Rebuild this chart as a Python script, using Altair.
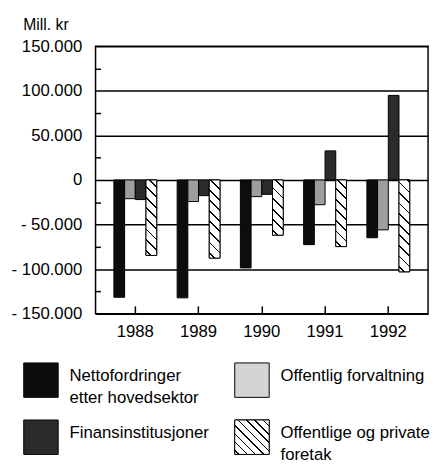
import math
import altair as alt
import pandas as pd

# ---- data ----
years = ["1988", "1989", "1990", "1991", "1992"]
series = ["Nettofordringer", "Offentlig forvaltning", "Finansinstitusjoner", "Offentlige og private foretak"]
netto = [-131500, -132200, -98600, -72500, -64800]
off_forv = [-21000, -24200, -18700, -27800, -56000]
finans = [-22000, -17600, -16100, 32600, 94800]
foretak = [-84600, -87600, -61900, -74700, -103000]
bar_colors = ["#0d0d0d", "#9e9e9e", "#2b2b2b", "#ffffff"]

y_major = [-150000, -100000, -50000, 0, 50000, 100000, 150000]
y_minor = [-125000, -75000, -25000, 25000, 75000, 125000]

legend_labels = ["Nettofordringer\netter hovedsektor", "Offentlig forvaltning",
                 "Finansinstitusjoner", "Offentlige og private\nforetak"]
legend_col = [0, 1, 0, 1]
legend_row = [0, 0, 1, 1]
legend_fill = ["#0d0d0d", "#d4d4d4", "#2b2b2b", "#ffffff"]

FONT = "Liberation Sans, Arial, Helvetica, sans-serif"
FS = 17
W, H = 338, 272
P_INNER, P_OUTER = 0.323, 0.29

rows = []
for s, vals in zip(series, [netto, off_forv, finans, foretak]):
    for y, v in zip(years, vals):
        rows.append({"year": y, "series": s, "value": v})
df = pd.DataFrame(rows)

ldf = pd.DataFrame({"label": legend_labels, "series": series, "col": legend_col,
                    "row": legend_row, "fill": legend_fill})


def hatch(w, h, spacing=7.6, lw=1.3):
    """Diagonal '\\' hatch as a striped linear gradient in bbox units."""
    D = (w + h) / math.sqrt(2)
    s = (w + h) / (w * w + h * h)
    stops = [{"offset": 0, "color": "white"}]
    c = spacing / 2
    while c < D:
        a = max(0.0, (c - lw / 2) / D)
        b = min(1.0, (c + lw / 2) / D)
        stops += [{"offset": a, "color": "white"}, {"offset": a, "color": "black"},
                  {"offset": b, "color": "black"}, {"offset": b, "color": "white"}]
        c += spacing
    stops.append({"offset": 1, "color": "white"})
    return {"gradient": "linear", "x1": 0, "y1": 1, "x2": s * w, "y2": 1 - s * h, "stops": stops}


step = W / (len(years) - P_INNER + 2 * P_OUTER)
bar_w = step * (1 - P_INNER) / len(series)

xscale = alt.Scale(paddingInner=P_INNER, paddingOuter=P_OUTER)
yscale = alt.Scale(domain=[-150000, 150000], nice=False)
offscale = alt.Scale(domain=series, paddingInner=0, paddingOuter=0)

label_expr = ("datum.value == 0 ? '0' : (datum.value < 0 ? '- ' : '') + "
              "replace(format(abs(datum.value), ','), ',', '.')")

base = alt.Chart(df)

bars = base.mark_bar(stroke="black", strokeWidth=1).encode(
    x=alt.X("year:N", title=None, scale=xscale,
            axis=alt.Axis(orient="bottom", ticks=False, domain=False, grid=False, labelAngle=0,
                          labelFont=FONT, labelFontSize=FS, labelColor="black", labelPadding=10)),
    xOffset=alt.XOffset("series:N", scale=offscale, sort=series),
    y=alt.Y("value:Q", scale=yscale,
            axis=alt.Axis(orient="left", values=y_major, labelExpr=label_expr, ticks=False,
                          domain=False, grid=True, gridColor="black", gridWidth=1.5, gridOpacity=1,
                          labelFont=FONT, labelFontSize=FS, labelColor="black", labelPadding=14,
                          title="Mill. kr", titleAngle=0, titleAlign="left", titleBaseline="alphabetic",
                          titleX=-74, titleY=-17, titleFont=FONT, titleFontSize=16,
                          titleFontWeight="normal", titleColor="black")),
    fill=alt.Fill("series:N", scale=alt.Scale(domain=series, range=bar_colors), legend=None),
)

layers = [bars]
for i, (yr, v) in enumerate(zip(years, foretak)):
    h = abs(v) / 300000 * H
    if i == 0:
        xax = alt.Axis(orient="top", offset=-H, labels=False, domain=False, grid=False,
                       ticks=True, tickSize=8, tickColor="black", tickWidth=1.5)
        yax = alt.Axis(orient="right", offset=-W, values=y_minor, labels=False, domain=False,
                       grid=False, ticks=True, tickSize=5, tickColor="black", tickWidth=1.5)
    else:
        xax = None
        yax = None
    layer = base.transform_filter(
        (alt.datum.year == yr) & (alt.datum.series == series[3])
    ).mark_bar(fill=hatch(bar_w, h), stroke="black", strokeWidth=1).encode(
        x=alt.X("year:N", title=None, scale=xscale, axis=xax),
        xOffset=alt.XOffset("series:N", scale=offscale, sort=series),
        y=alt.Y("value:Q", scale=yscale, axis=yax, title=None),
    )
    layers.append(layer)

main = alt.layer(*layers).properties(
    width=W, height=H, view=alt.ViewBackground(stroke="black", strokeWidth=1.5)
)

SQ = 35
lbase = alt.Chart(ldf).encode(
    x=alt.X("col:Q", scale=alt.Scale(domain=[0, 1], range=[-55.5, 159]), axis=None),
    y=alt.Y("row:Q", scale=alt.Scale(domain=[0, 1], range=[30.5, 88.5]), axis=None),
)
lsq = lbase.mark_square(size=SQ * SQ, stroke="black", strokeWidth=1, opacity=1).encode(
    fill=alt.Fill("fill:N", scale=None)
)
lhatch = lbase.transform_filter(alt.datum.series == series[3]).mark_square(
    size=SQ * SQ, fill=hatch(SQ, SQ, spacing=6, lw=1.1), stroke="black", strokeWidth=1, opacity=1
)
ltext = lbase.mark_text(align="left", baseline="top", dx=29, dy=-12, font=FONT, fontSize=FS,
                        lineBreak="\n", lineHeight=22, color="black").encode(text="label:N")
legend = alt.layer(lsq, lhatch, ltext).properties(
    width=W, height=95, view=alt.ViewBackground(stroke=None)
)

chart = alt.vconcat(main, legend, spacing=10).properties(
    padding={"left": 2, "top": 4, "right": 1, "bottom": 0}
).configure_view(stroke=None).configure(background="white")

chart.save("out.html", embed_options={"renderer": "svg", "actions": False})
